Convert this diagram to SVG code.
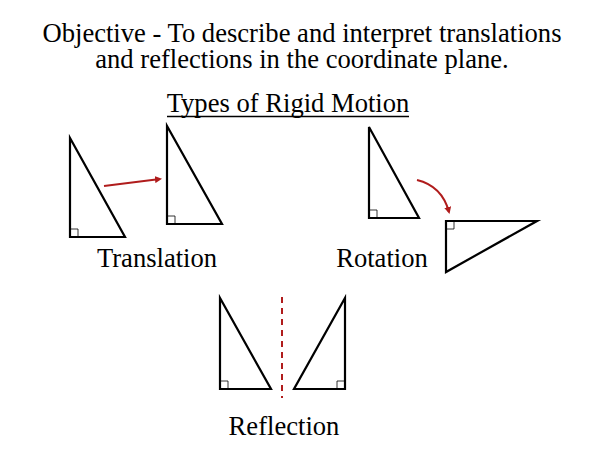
<svg xmlns="http://www.w3.org/2000/svg" width="600" height="450" viewBox="0 0 600 450">
<style>
.tri{fill:none;stroke:#000;stroke-width:2.2;stroke-linejoin:miter}
.box{fill:none;stroke:#000;stroke-width:0.8}
.arr{fill:none;stroke:#b01c1c;stroke-width:2}
</style>
<defs>
<marker id="ah" markerWidth="7" markerHeight="7" refX="5" refY="3.5" orient="auto" markerUnits="userSpaceOnUse">
<path d="M0,0 L7,3.5 L0,7 Z" fill="#b01c1c"/>
</marker>
</defs>
<rect width="600" height="450" fill="#fff"/>
<g font-family="'Liberation Serif', 'Times New Roman', Times, serif" font-size="26.6" text-anchor="middle" fill="#000">
<g id="title">
<text x="302" y="41.5">Objective - To describe and interpret translations</text>
<text x="302" y="67.5">and reflections in the coordinate plane.</text>
<text x="288" y="112">Types of Rigid Motion</text>
<line x1="167" y1="116.5" x2="409" y2="116.5" stroke="#000" stroke-width="1.3"/>
</g>
<g id="translation">
<path class="tri" d="M70,138 L70,237 L125,237 Z"/>
<path class="box" d="M70,229 H78 V237"/>
<path class="tri" d="M167,126 L167,224 L222,224 Z"/>
<path class="box" d="M167,216 H175 V224"/>
<text x="157" y="267">Translation</text>
</g>
<g id="rotation">
<path class="tri" d="M369,127 L369,218 L419,218 Z"/>
<path class="box" d="M369,210 H377 V218"/>
<path class="tri" d="M446,221 L537,221 L446,272 Z"/>
<path class="box" d="M446,229 H454 V221"/>
<text x="382" y="267">Rotation</text>
</g>
<g id="reflection">
<path class="tri" d="M220,298 L220,389 L271,389 Z"/>
<path class="box" d="M220,381 H228 V389"/>
<path class="tri" d="M345,298 L345,389 L294,389 Z"/>
<path class="box" d="M345,381 H337 V389"/>
<text x="284" y="435">Reflection</text>
</g>
</g>
<g id="connectors">
<line class="arr" x1="104" y1="186" x2="160" y2="179" marker-end="url(#ah)"/>
<path class="arr" d="M417,180 Q442,186 449,212" marker-end="url(#ah)"/>
<line x1="282" y1="297" x2="282" y2="398" stroke="#b01c1c" stroke-width="2" stroke-dasharray="6,5"/>
</g>
</svg>
